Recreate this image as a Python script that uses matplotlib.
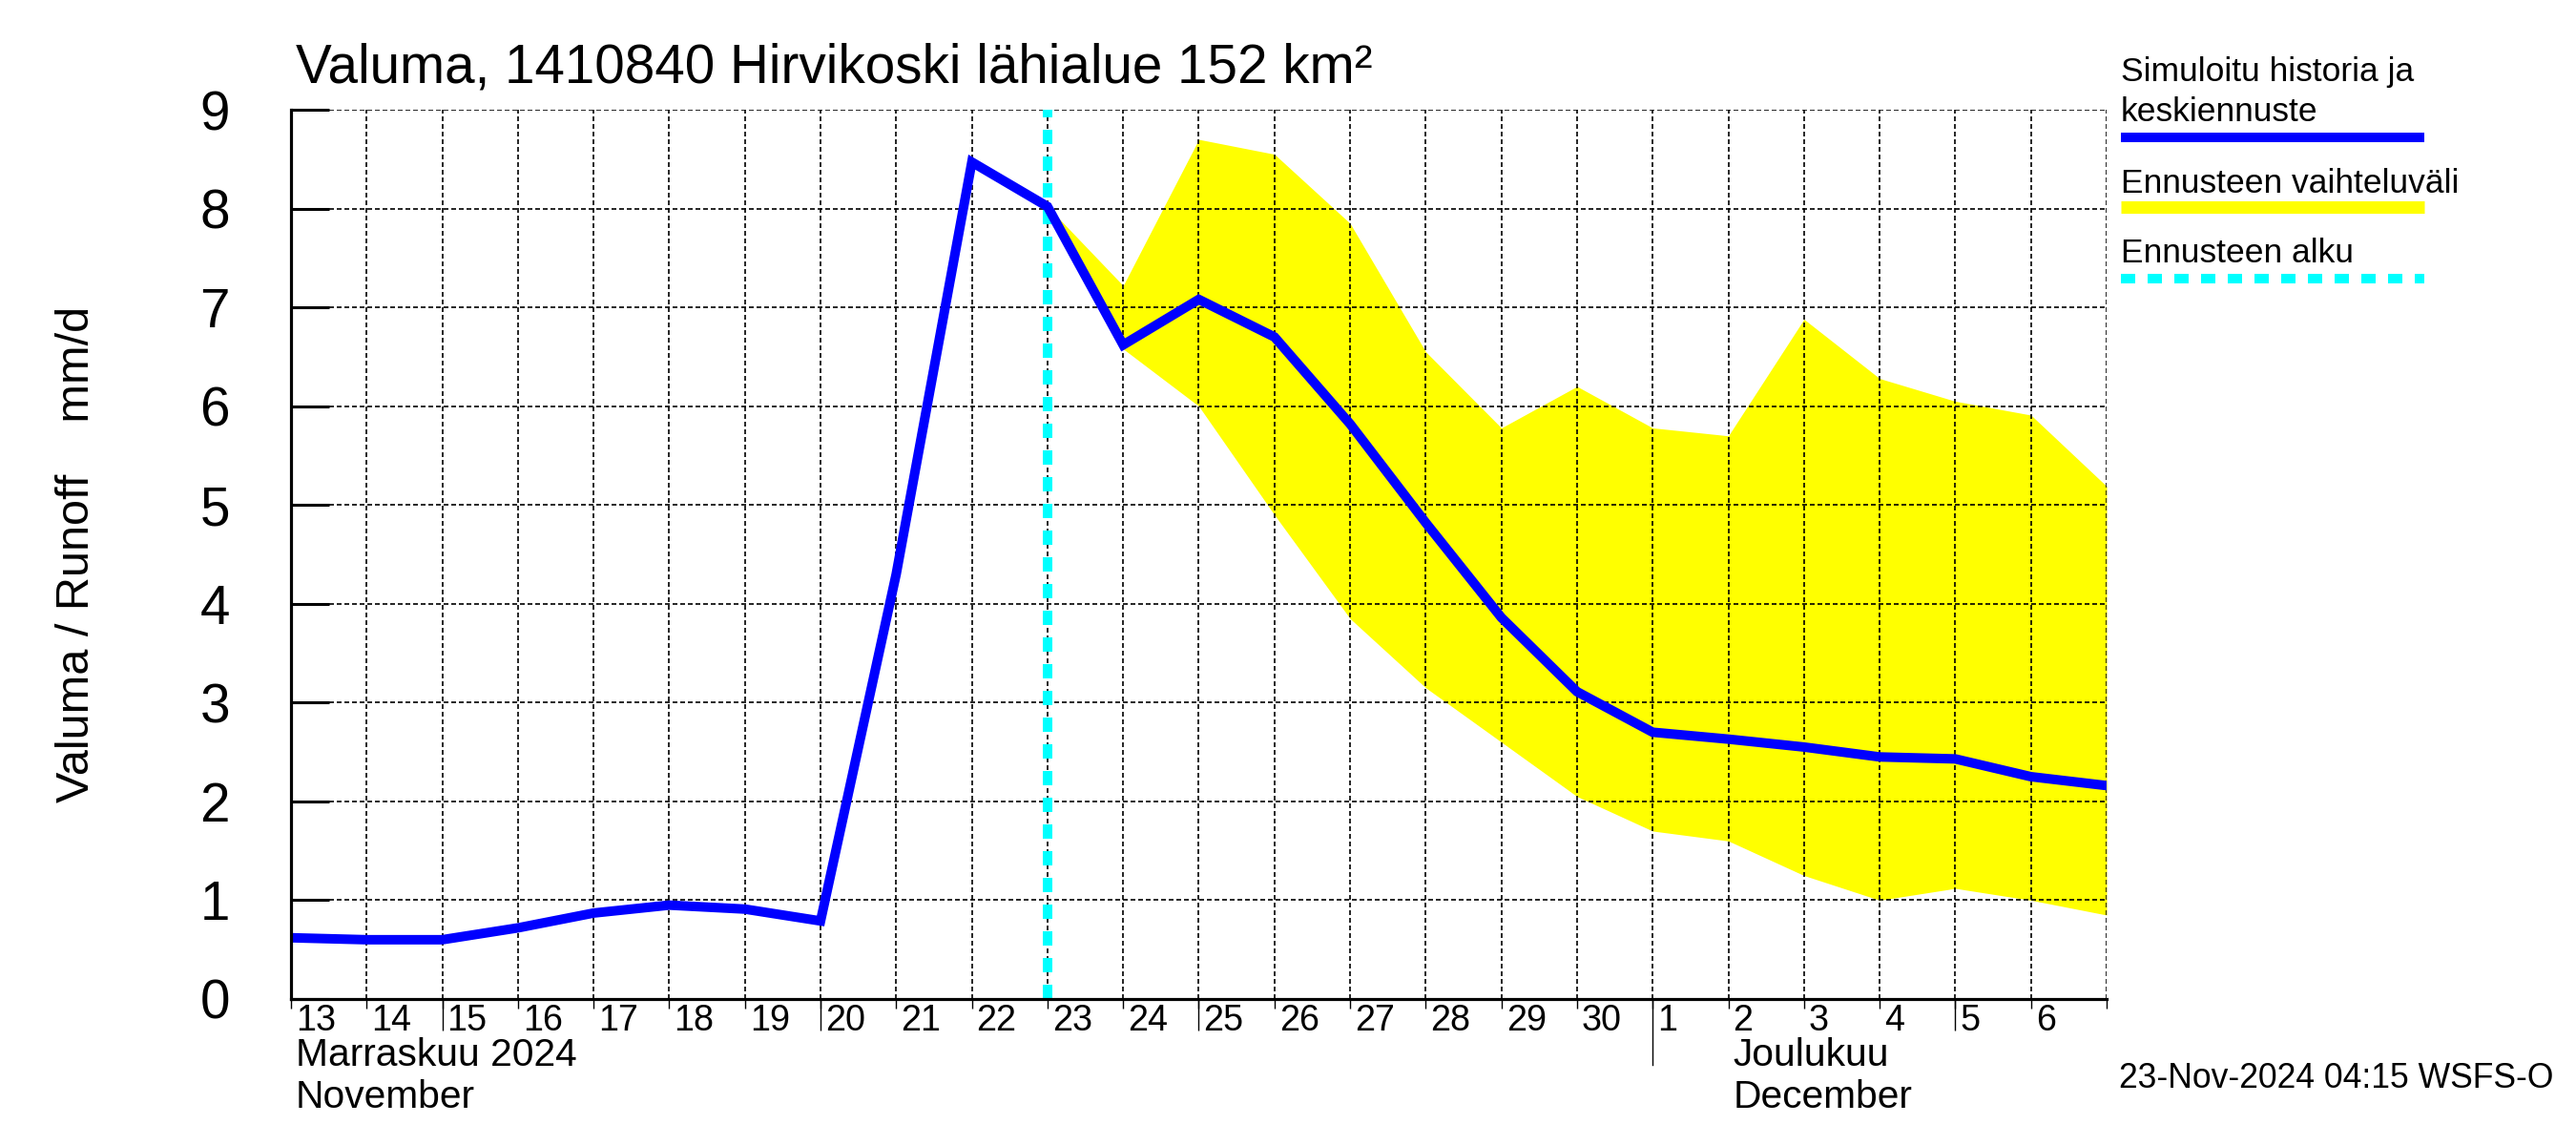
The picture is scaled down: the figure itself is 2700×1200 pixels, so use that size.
import matplotlib
matplotlib.use("Agg")
import matplotlib.pyplot as plt
import matplotlib.dates as mdates
from matplotlib.lines import Line2D
from matplotlib import font_manager
import matplotlib.transforms as mtransforms
import pandas as pd
import numpy as np

# ---------------- data ----------------
dates = pd.date_range("2024-11-13", "2024-12-07", freq="D")
mean_values = [0.62, 0.60, 0.60, 0.72, 0.87, 0.95, 0.91, 0.79, 4.30, 8.47,
               8.02, 6.62, 7.08, 6.70, 5.82, 4.82, 3.86, 3.11, 2.70, 2.63,
               2.55, 2.45, 2.43, 2.25, 2.16]
band_dates = pd.date_range("2024-11-23", "2024-12-07", freq="D")
band_upper = [8.02, 7.22, 8.70, 8.55, 7.85, 6.55, 5.78, 6.20, 5.78, 5.70,
              6.88, 6.28, 6.05, 5.91, 5.19]
band_lower = [8.02, 6.58, 6.00, 4.90, 3.85, 3.15, 2.60, 2.05, 1.70, 1.60,
              1.25, 1.00, 1.12, 1.00, 0.85]
forecast_start = pd.Timestamp("2024-11-23")
day_labels = [str(d.day) for d in dates[:-1]]
y_ticks = [0, 1, 2, 3, 4, 5, 6, 7, 8, 9]

title = "Valuma, 1410840 Hirvikoski lähialue 152 km²"
ylabel = "Valuma / Runoff    mm/d"
legend_labels = [("Simuloitu historia ja", "keskiennuste"), ("Ennusteen vaihteluväli",), ("Ennusteen alku",)]
month_labels = [("2024-11-13", "Marraskuu 2024", "November"),
                ("2024-12-02", "Joulukuu", "December")]
timestamp = "23-Nov-2024 04:15 WSFS-O"

# ---------------- fonts ----------------
names = {f.name for f in font_manager.fontManager.ttflist}
REG = "Liberation Sans" if "Liberation Sans" in names else "DejaVu Sans"
HAS_NARROW = "Liberation Sans Narrow" in names
NARROW = "Liberation Sans Narrow" if HAS_NARROW else REG
nf = 1.0 if HAS_NARROW else 0.85  # size factor when no narrow face

W, H = 2700, 1200
fig = plt.figure(figsize=(27, 12), dpi=100)
L, R, T, B = 305, 2208, 115, 1047
ax = fig.add_axes([L / W, 1 - B / H, (R - L) / W, (B - T) / H])

x = mdates.date2num(dates)
xb = mdates.date2num(band_dates)

BLUE = (0, 0, 1)
YEL = (1, 1, 0)
CYAN = (0, 1, 1)

ax.fill_between(xb, band_lower, band_upper, color=YEL, lw=0, zorder=1)
ax.plot(x, mean_values, color=BLUE, lw=7.2, zorder=3, solid_joinstyle="miter")
ax.axvline(mdates.date2num(forecast_start), color=CYAN, lw=7.2,
           linestyle=(0, (1.5, 1.3)), zorder=2.8)

ax.set_xlim(x[0], x[-1])
ax.set_ylim(0, 9)

# grid
ax.set_xticks(x)
ax.set_yticks(y_ticks)
ax.grid(True, color="black", lw=1.2, linestyle=(0, (3.0, 1.8)))
ax.set_axisbelow(False)
for gl in ax.get_xgridlines() + ax.get_ygridlines():
    gl.set_zorder(2)

for s in ["top", "right"]:
    ax.spines[s].set_visible(False)
for s in ["left", "bottom"]:
    ax.spines[s].set_linewidth(2.3)
    ax.spines[s].set_zorder(5)

# y ticks
ax.tick_params(axis="y", direction="in", length=29, width=2.2, pad=46,
               labelsize=48 * nf)
for lab in ax.get_yticklabels():
    lab.set_fontfamily(NARROW)

# x ticks
ax.set_xticklabels(day_labels + [""])
ax.tick_params(axis="x", direction="out", length=7, width=1.0, pad=-3.5,
               labelsize=32 * nf)
offset = mtransforms.ScaledTranslation(5 / 100, 0, fig.dpi_scale_trans)
for lab in ax.get_xticklabels():
    lab.set_horizontalalignment("left")
    lab.set_fontfamily(NARROW)
    lab.set_transform(lab.get_transform() + offset)

# longer ticks every 5th day and month boundary
five_days = [d for d in dates if d.day in (5, 10, 15, 20, 25)]
ax.set_xticks(mdates.date2num(five_days), minor=True)
ax.xaxis.remove_overlapping_locs = False
ax.tick_params(axis="x", which="minor", direction="out", length=24, width=1.0)
month_start = [d for d in dates if d.day == 1]
btrans = mtransforms.blended_transform_factory(ax.transData, ax.transAxes)
for d in month_start:
    ax.plot([mdates.date2num(d)] * 2, [0, -0.074], color="black", lw=1.0,
            transform=btrans, clip_on=False)

# month labels (two lines each, baselines in figure pixels)
for ds, l1, l2 in month_labels:
    xd = mdates.date2num(pd.Timestamp(ds))
    for txt, base in ((l1, 1117), (l2, 1161)):
        tr = mtransforms.blended_transform_factory(ax.transData, fig.transFigure) + offset
        fig.text(xd, 1 - base / H, txt, transform=tr, ha="left", va="baseline",
                 fontsize=34.5 * nf, family=NARROW)

# title
fig.text(310 / W, 1 - 86 / H, title, fontsize=48 * nf, family=NARROW,
         ha="left", va="baseline")

# y label
fig.text(81 / W, 1 - 581 / H, ylabel, fontsize=35, family=REG, rotation=90,
         ha="center", va="center")

# legend (manual)
lx0, lx1 = 2223 / W, 2541 / W
fig.text(lx0, 1 - 85 / H, legend_labels[0][0], fontsize=25.5, family=REG,
         ha="left", va="baseline")
fig.text(lx0, 1 - 127 / H, legend_labels[0][1], fontsize=25.5, family=REG,
         ha="left", va="baseline")
fig.add_artist(Line2D([lx0, lx1], [1 - 144 / H] * 2, color=BLUE, lw=7.2,
                      solid_capstyle="butt"))
fig.text(lx0, 1 - 202 / H, legend_labels[1][0], fontsize=25.5, family=REG,
         ha="left", va="baseline")
fig.add_artist(Line2D([lx0, lx1], [1 - 217 / H] * 2, color=YEL, lw=9.4,
                      solid_capstyle="butt"))
fig.text(lx0, 1 - 275 / H, legend_labels[2][0], fontsize=25.5, family=REG,
         ha="left", va="baseline")
fig.add_artist(Line2D([lx0, lx1], [1 - 292 / H] * 2, color=CYAN, lw=7.2,
                      linestyle=(0, (1.5, 1.3)), dash_capstyle="butt"))

# timestamp
fig.text(2221 / W, 1 - 1140 / H, timestamp, fontsize=25.6, family=REG,
         ha="left", va="baseline")

fig.savefig("out.png", dpi=100)
